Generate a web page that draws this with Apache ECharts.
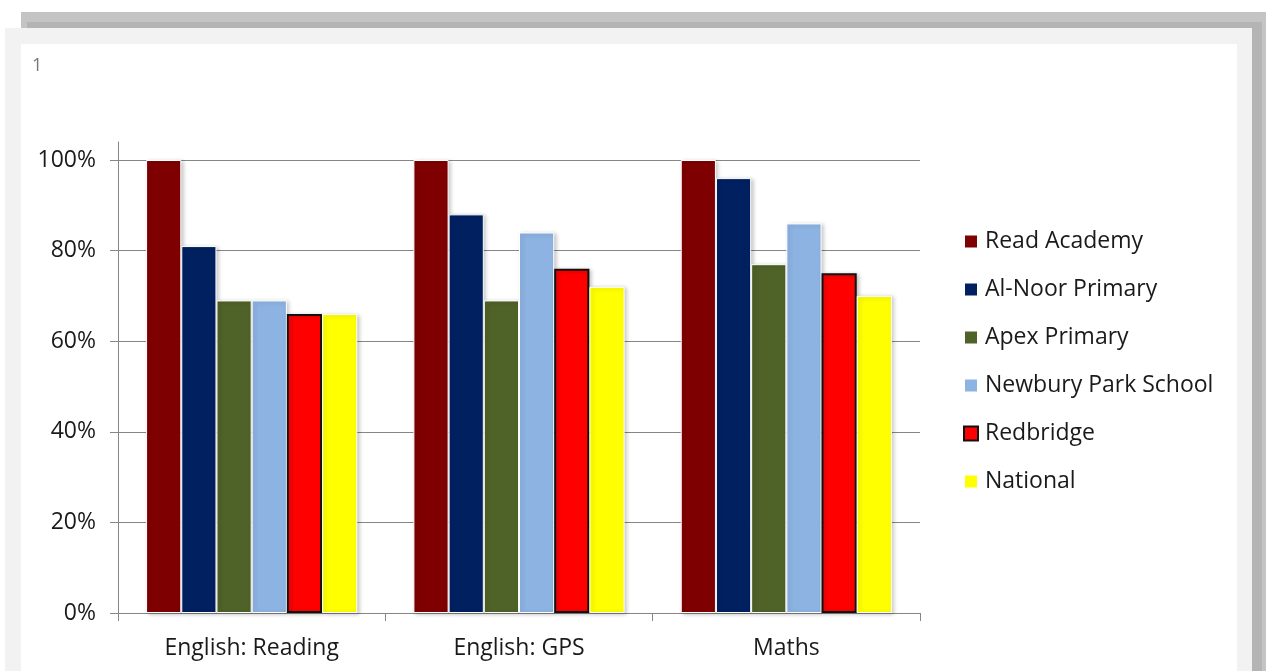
<!DOCTYPE html>
<html>
<head>
<meta charset="utf-8">
<script src="https://cdn.jsdelivr.net/npm/echarts@6/dist/echarts.min.js"></script>
<style>
html,body{margin:0;padding:0;background:#fff;}
#c{width:1266px;height:671px;}
</style>
</head>
<body>
<div id="c"></div>
<script>
const categories = ['English: Reading', 'English: GPS', 'Maths'];
const seriesNames = ['Read Academy', 'Al-Noor Primary', 'Apex Primary', 'Newbury Park School', 'Redbridge', 'National'];
const readAcademy = [100, 100, 100];
const alNoor = [81, 88, 96];
const apex = [69, 69, 77];
const newbury = [69, 84, 86];
const redbridge = [66, 76, 75];
const national = [66, 72, 70];
const yTicks = [0, 20, 40, 60, 80, 100];

const values = [readAcademy, alNoor, apex, newbury, redbridge, national];
const colors = ['#7f0000', '#002060', '#4f6228', '#8db3e2', '#ff0000', '#ffff00'];

const FONT = 'Open Sans';
const chart = echarts.init(document.getElementById('c'), null, {renderer: 'canvas'});

const series = seriesNames.map((name, i) => ({
  name: name,
  type: 'bar',
  xAxisIndex: 0,
  yAxisIndex: 0,
  data: values[i],
  barGap: '0%',
  barCategoryGap: '21%',
  z: 3,
  itemStyle: {
    color: colors[i],
    borderColor: name === 'Redbridge' ? '#111' : '#ffffff',
    borderWidth: name === 'Redbridge' ? 2 : 1,
    shadowColor: 'rgba(0,0,0,0.22)',
    shadowBlur: 4,
    shadowOffsetX: 2,
    shadowOffsetY: 1
  },
  emphasis: {disabled: true}
}));

chart.setOption({
  animation: false,
  backgroundColor: '#ffffff',
  graphic: [
    {type: 'rect', shape: {x: 21, y: 12, width: 1245, height: 16}, style: {fill: '#c4c4c4'}, z: -10},
    {type: 'rect', shape: {x: 27, y: 22, width: 1239, height: 6}, style: {fill: '#b4b4b4'}, z: -10},
    {type: 'rect', shape: {x: 1252, y: 22, width: 14, height: 649}, style: {fill: '#b4b4b4'}, z: -10},
    {type: 'rect', shape: {x: 1262, y: 12, width: 4, height: 659}, style: {fill: '#c4c4c4'}, z: -10},
    {type: 'rect', shape: {x: 5, y: 28, width: 1247, height: 643}, style: {fill: '#f2f2f2'}, z: -9},
    {type: 'rect', shape: {x: 21, y: 44, width: 1216, height: 627}, style: {fill: '#ffffff'}, z: -8},
    {type: 'text', left: 32, top: 57, style: {text: '1', fill: '#777', font: '18px "Open Sans"'}, z: 5}
  ],
  legend: {
    orient: 'vertical',
    left: 963,
    top: 230,
    padding: 0,
    itemWidth: 14,
    itemHeight: 14,
    itemGap: 25,
    icon: 'rect',
    data: seriesNames,
    textStyle: {fontFamily: FONT, fontSize: 23, color: '#1a1a1a', lineHeight: 22, padding: [0, 0, 0, 2]},
    selectedMode: false
  },
  grid: [
    {left: 118, right: 346, top: 160, bottom: 58, containLabel: false},
    {left: 118, right: 346, top: 142, bottom: 58, containLabel: false}
  ],
  xAxis: [
    {
      type: 'category',
      gridIndex: 0,
      data: categories,
      axisLine: {show: true, lineStyle: {color: '#868686', width: 1}},
      axisTick: {show: true, length: 8, alignWithLabel: false, lineStyle: {color: '#868686'}},
      axisLabel: {fontFamily: FONT, fontSize: 23, color: '#1a1a1a', margin: 24},
      splitLine: {show: false}
    },
    {
      type: 'category', gridIndex: 1, data: categories, show: false
    }
  ],
  yAxis: [
    {
      type: 'value',
      gridIndex: 0,
      min: yTicks[0],
      max: yTicks[yTicks.length - 1],
      interval: 20,
      axisLine: {show: false},
      axisTick: {show: true, length: 8, lineStyle: {color: '#868686'}},
      axisLabel: {fontFamily: FONT, fontSize: 23, color: '#1a1a1a', margin: 22, formatter: v => v + '%'},
      splitLine: {show: true, lineStyle: {color: '#868686', width: 1}}
    },
    {
      type: 'value',
      gridIndex: 1,
      min: 0, max: 1,
      axisLine: {show: true, lineStyle: {color: '#868686', width: 1}},
      axisTick: {show: false},
      axisLabel: {show: false},
      splitLine: {show: false}
    }
  ],
  series: series
});
</script>
</body>
</html>
